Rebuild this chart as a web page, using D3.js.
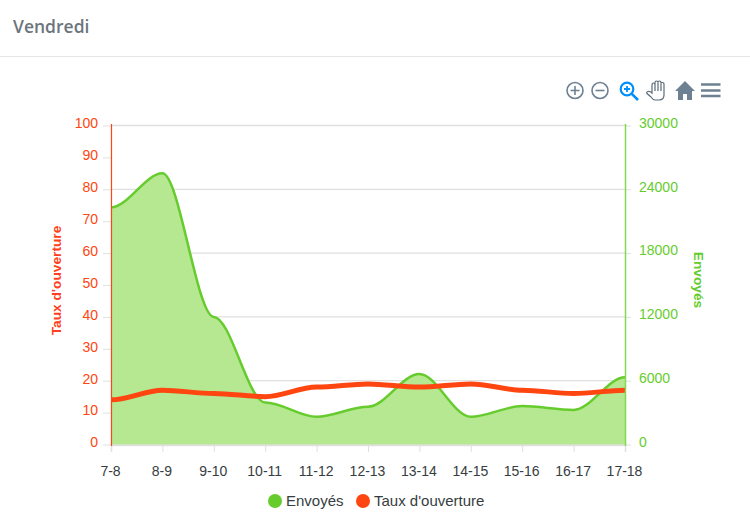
<!DOCTYPE html>
<html lang="fr">
<head>
<meta charset="utf-8">
<script src="https://cdn.jsdelivr.net/npm/d3@7"></script>
<style>
  html, body { margin: 0; padding: 0; background: #fff; overflow: hidden; }
  svg { display: block; }
  text { font-family: "Liberation Sans", Arial, sans-serif; }
</style>
</head>
<body>
<svg id="chart" width="750" height="527"></svg>
<script>
const hours = ['7-8', '8-9', '9-10', '10-11', '11-12', '12-13', '13-14', '14-15', '15-16', '16-17', '17-18'];
const envoyes = [22300, 25500, 12000, 3950, 2600, 3550, 6630, 2600, 3620, 3250, 6320];
const tauxOuverture = [14, 17, 16, 15, 18, 19, 18, 19, 17, 16, 17];
const tauxTicks = [0, 10, 20, 30, 40, 50, 60, 70, 80, 90, 100];
const envoyesTicks = [0, 6000, 12000, 18000, 24000, 30000];
const legendItems = ['Envoyés', "Taux d'ouverture"];

const green = '#66CC2E';
const red = '#FF4510';
const svg = d3.select('#chart');

// same idea as curveBumpX but with shorter handles, the picture has tight shoulders
function shoulderCurve(context) {
  let px, py, first, line = NaN;
  return {
    areaStart() { line = 0; },
    areaEnd() { line = NaN; },
    lineStart() { first = true; },
    lineEnd() {
      if (line) context.closePath();
      line = 1 - line;
    },
    point(x, y) {
      x = +x; y = +y;
      if (first) {
        first = false;
        if (line) context.lineTo(x, y); else context.moveTo(x, y);
      } else {
        const h = (x - px) * 0.33;
        context.bezierCurveTo(px + h, py, x - h, y, x, y);
      }
      px = x; py = y;
    }
  };
}

// header
svg.append('text').attr('x', 13).attr('y', 33).attr('font-size', 17.5).attr('font-weight', 600)
  .style('font-family', '"Open Sans", sans-serif').attr('fill', '#6C757D').text('Vendredi');
svg.append('line').attr('x1', 0).attr('x2', 750).attr('y1', 56.5).attr('y2', 56.5).attr('stroke', '#E6E6E6');

const x = d3.scalePoint().domain(hours).range([111, 625]);
const yLeft = d3.scaleLinear().domain([0, 100]).range([444.5, 125.5]);
const yRight = d3.scaleLinear().domain([0, 30000]).range([444.5, 125.5]);

// grid
svg.append('g').selectAll('line').data(envoyesTicks).join('line')
  .attr('x1', 111).attr('x2', 625)
  .attr('y1', (d) => yRight(d)).attr('y2', (d) => yRight(d))
  .attr('stroke', '#E0E0E0').attr('stroke-width', 1.3);

// area + lines
const area = d3.area().x((_, i) => x(hours[i])).y0(yRight(0)).y1((d) => yRight(d)).curve(shoulderCurve);
const lineEnvoyes = d3.line().x((_, i) => x(hours[i])).y((d) => yRight(d)).curve(shoulderCurve);
const lineTaux = d3.line().x((_, i) => x(hours[i])).y((d) => yLeft(d)).curve(shoulderCurve);
svg.append('path').attr('d', area(envoyes)).attr('fill', '#B5E891');
svg.append('path').attr('d', lineEnvoyes(envoyes)).attr('fill', 'none').attr('stroke', green).attr('stroke-width', 2.5);
svg.append('path').attr('d', lineTaux(tauxOuverture)).attr('fill', 'none').attr('stroke', red).attr('stroke-width', 5);

// axes
const bottom = svg.append('g').attr('transform', 'translate(0,445)').call(d3.axisBottom(x).tickSize(7).tickPadding(14));
bottom.selectAll('path').attr('stroke', '#E0E0E0').attr('stroke-width', 1.5);
bottom.selectAll('line').attr('stroke', '#E0E0E0');
bottom.selectAll('text').attr('font-size', 14).attr('fill', '#373D3F').attr('dx', -1).style('font-family', '"Liberation Sans", Arial, sans-serif');

const left = svg.append('g').attr('transform', 'translate(111,0)')
  .call(d3.axisLeft(yLeft).tickValues(tauxTicks).tickSize(8).tickPadding(5));
left.select('path').remove();
left.selectAll('line').attr('stroke', '#E0E0E0');
left.selectAll('text').attr('font-size', 14).attr('fill', red).attr('dy', '0.17em').style('font-family', '"Liberation Sans", Arial, sans-serif');
svg.append('line').attr('x1', 111.5).attr('x2', 111.5).attr('y1', 124).attr('y2', 446).attr('stroke', red).attr('stroke-width', 1.2);

const right = svg.append('g').attr('transform', 'translate(625,0)')
  .call(d3.axisRight(yRight).tickValues(envoyesTicks).tickFormat(d3.format('d')).tickSize(6).tickPadding(8));
right.select('path').remove();
right.selectAll('line').attr('stroke', '#E0E0E0');
right.selectAll('text').attr('font-size', 14).attr('fill', green).attr('dy', '0.13em').style('font-family', '"Liberation Sans", Arial, sans-serif');
svg.append('line').attr('x1', 625.5).attr('x2', 625.5).attr('y1', 124).attr('y2', 446).attr('stroke', '#85D94F').attr('stroke-width', 1.5);

// axis titles
svg.append('text').attr('transform', 'translate(60.5,280.5) rotate(-90)').attr('text-anchor', 'middle')
  .attr('font-size', 13.7).attr('font-weight', 700).attr('fill', '#FF4020').text("Taux d'ouverture");
svg.append('text').attr('transform', 'translate(694,280) rotate(90)').attr('text-anchor', 'middle')
  .attr('font-size', 13.7).attr('font-weight', 700).attr('fill', green).text('Envoyés');

// legend
const legendX = [275, 363];
const legend = svg.append('g').selectAll('g').data(legendItems).join('g')
  .attr('transform', (_, i) => `translate(${legendX[i]},501)`);
legend.append('circle').attr('r', 7).attr('fill', (_, i) => (i === 0 ? green : red));
legend.append('text').attr('x', 11).attr('y', 5).attr('font-size', 15).attr('fill', '#373D3F').text((d) => d);

// toolbar
const grey = '#6E8192';
const blue = '#008FFB';
const icons = svg.append('g').attr('fill', 'none').attr('stroke-width', 1.6);
const zoomIn = icons.append('g').attr('transform', 'translate(575,90.5)').attr('stroke', grey);
zoomIn.append('circle').attr('r', 8);
zoomIn.append('path').attr('d', 'M-4.5 0H4.5M0 -4.5V4.5');
const zoomOut = icons.append('g').attr('transform', 'translate(600,90.5)').attr('stroke', grey);
zoomOut.append('circle').attr('r', 8);
zoomOut.append('path').attr('d', 'M-4.5 0H4.5');
const loupe = icons.append('g').attr('transform', 'translate(627,89)').attr('stroke', blue);
loupe.append('circle').attr('r', 6.3).attr('stroke-width', 2.2);
loupe.append('path').attr('d', 'M-3 0H3M0 -3V3').attr('stroke-width', 1.8);
loupe.append('path').attr('d', 'M4.8 4.8L11 11').attr('stroke-width', 2.6);
const hand = icons.append('g').attr('transform', 'translate(646,81)').attr('stroke', '#5A6B78').attr('stroke-width', 1.2);
hand.append('path').attr('d', 'M6 12V4Q6 2 7.5 2T9 4V1.5Q9 0 10.5 0T12 1.5V1.5Q12 0 13.5 0T15 1.5V2.5Q15 1.5 16.5 1.5T18 3V14Q18 19 13 19H9Q7 19 5 16L1 12.5Q0 11 2 10.5T6 12Z');
hand.append('path').attr('d', 'M9 4V10M12 1.5V10M15 2.5V10');
icons.append('path').attr('transform', 'translate(675,81)').attr('stroke', 'none').attr('fill', grey)
  .attr('d', 'M0 10L10 0L20 10H17V19H12V13H8V19H3V10Z');
icons.append('path').attr('stroke', grey).attr('stroke-width', 2.4)
  .attr('d', 'M701 84.5H720.5M701 90.5H720.5M701 96H720.5');
</script>
</body>
</html>
